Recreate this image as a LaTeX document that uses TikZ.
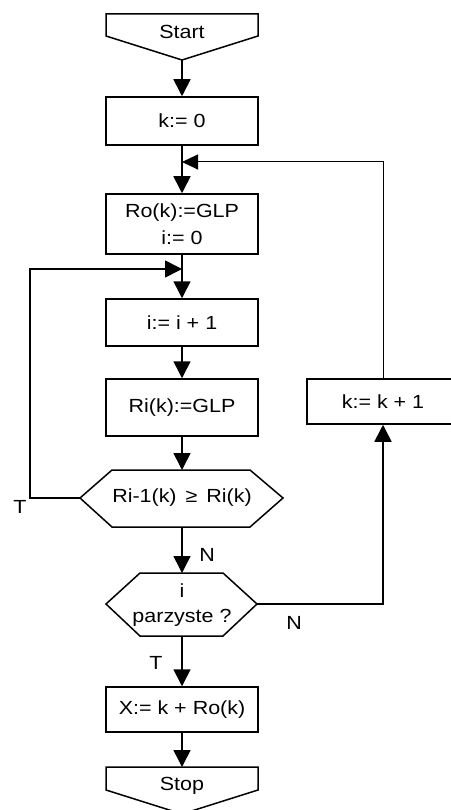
\documentclass[tikz,border=0pt]{standalone}
\usepackage{fontspec}
\setmainfont[FakeStretch=1.13]{Liberation Sans}
\usetikzlibrary{arrows.meta}
\begin{document}
\begin{tikzpicture}[x=1pt,y=-1pt,
  every node/.style={font=\fontsize{19}{28}\selectfont},
  boxnode/.style={draw, line width=1.5pt, minimum width=152pt, inner sep=0pt, align=center},
  shapeline/.style={line width=1.5pt, line join=miter},
  conn/.style={line width=1.6pt},
  arr/.style={conn, -{Triangle[width=17pt,length=17pt]}},
  thinarr/.style={line width=1pt, -{Triangle[width=15pt,length=16pt]}},
  lbl/.style={inner sep=0pt}]
\useasboundingbox (0,0) rectangle (450,810);

% Start
\draw[shapeline] (106,14) -- (258,14) -- (258,36) -- (182,60) -- (106,36) -- cycle;
\node (start) at (182,32) {Start};
\coordinate (startB) at (182,60);

\node[boxnode, minimum height=48pt] (k0) at (182,121) {k:= 0};
\coordinate (m1) at (182,162);
\node[boxnode, minimum height=60pt] (ro) at (182,224) {Ro(k):=GLP\\[-1pt]i:= 0};
\coordinate (m2) at (182,269);
\node[boxnode, minimum height=47pt] (inc) at (182,322.5) {i:= i + 1};
\node[boxnode, minimum height=57pt] (ri) at (182,407.5) {Ri(k):=GLP};

% decision 1
\draw[shapeline] (80,498) -- (112,470) -- (250,470) -- (283,498) -- (250,527) -- (112,527) -- cycle;
\node (h1) at (182,498) {Ri-1(k)\hspace{9pt}≥\hspace{9pt}Ri(k)};
\coordinate (h1top) at (182,470);
\coordinate (h1bot) at (182,527);
\coordinate (h1left) at (80,498);
\coordinate (lc) at (30,498);

% decision 2
\draw[shapeline] (106,604) -- (140,573) -- (223,573) -- (257,604) -- (223,636) -- (140,636) -- cycle;
\node[align=center] (h2) at (182,605) {i\\[-3pt]parzyste ?};
\coordinate (h2top) at (182,573);
\coordinate (h2bot) at (182,636);
\coordinate (h2right) at (257,604);

\node[boxnode, minimum height=45pt] (xb) at (182,709.5) {X:= k + Ro(k)};

% Stop
\draw[shapeline] (106,767) -- (258,767) -- (258,790) -- (182,814) -- (106,790) -- cycle;
\node (stop) at (182,786) {Stop};
\coordinate (stopT) at (182,767);

\node[boxnode, minimum height=45pt] (kinc) at (383,401.5) {k:= k + 1};

% labels
\node[lbl] (tT1) at (20,507) {T};
\node[lbl] (tN1) at (207,555) {N};
\node[lbl] (tN2) at (294,623) {N};
\node[lbl] (tT2) at (156,663) {T};

% connectors
\draw[arr] (startB) -- (k0.north);
\draw[conn] (k0.south) -- (m1);
\draw[arr] (m1) -- (ro.north);
\draw[thinarr] (kinc.north) |- (m1);
\draw[conn] (ro.south) -- (m2);
\draw[arr] (m2) -- (inc.north);
\draw[arr] (h1left) -- (lc) |- (m2);
\draw[arr] (inc.south) -- (ri.north);
\draw[arr] (ri.south) -- (h1top);
\draw[arr] (h1bot) -- (h2top);
\draw[arr] (h2right) -| (kinc.south);
\draw[arr] (h2bot) -- (xb.north);
\draw[arr] (xb.south) -- (stopT);
\end{tikzpicture}
\end{document}
